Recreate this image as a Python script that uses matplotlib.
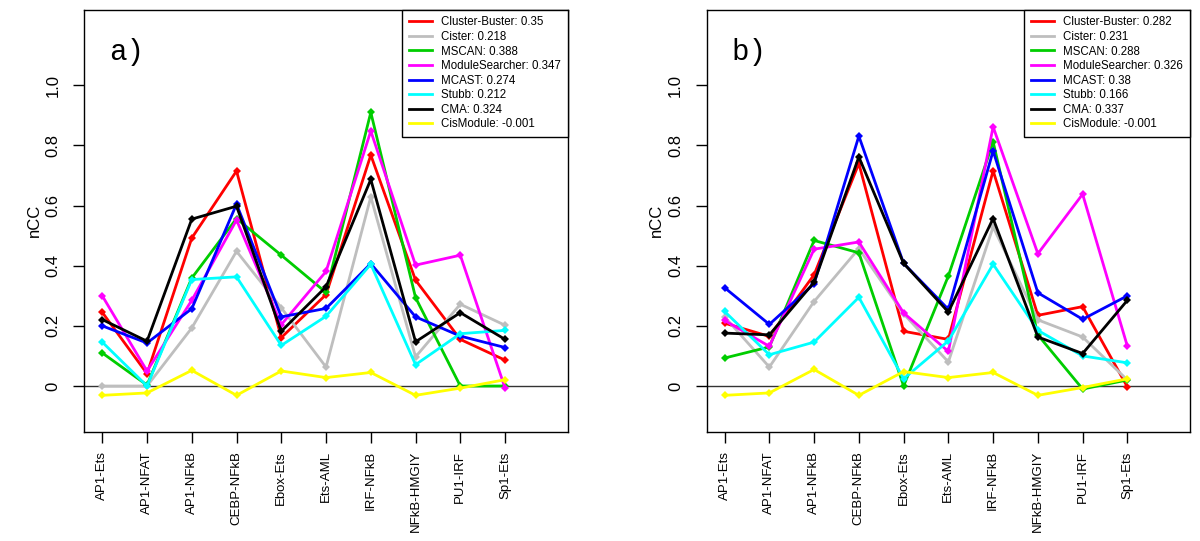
import numpy as np
import matplotlib.pyplot as plt
from matplotlib.lines import Line2D

plt.rcParams['font.family'] = ['Liberation Sans', 'DejaVu Sans']

# categories on the x axis
sites = ["AP1-Ets", "AP1-NFAT", "AP1-NFkB", "CEBP-NFkB", "Ebox-Ets",
         "Ets-AML", "IRF-NFkB", "NFkB-HMGIY", "PU1-IRF", "Sp1-Ets"]

methods = ["Cluster-Buster", "Cister", "MSCAN", "ModuleSearcher",
           "MCAST", "Stubb", "CMA", "CisModule"]
colors = ["#FF0000", "#BEBEBE", "#00CD00", "#FF00FF",
          "#0000FF", "#00FFFF", "#000000", "#FFFF00"]

# panel a) nCC per site
a_clusterbuster = [0.245, 0.041, 0.492, 0.715, 0.161, 0.304, 0.768, 0.352, 0.155, 0.086]
a_cister        = [0.0, 0.0, 0.193, 0.448, 0.26, 0.063, 0.629, 0.097, 0.272, 0.202]
a_mscan         = [0.11, 0.003, 0.359, 0.557, 0.435, 0.311, 0.91, 0.294, 0.0, 0.0]
a_modulesearch  = [0.30, 0.05, 0.285, 0.552, 0.204, 0.381, 0.848, 0.402, 0.435, -0.007]
a_mcast         = [0.20, 0.143, 0.257, 0.605, 0.23, 0.258, 0.407, 0.23, 0.166, 0.128]
a_stubb         = [0.146, 0.0, 0.354, 0.363, 0.135, 0.232, 0.405, 0.071, 0.174, 0.185]
a_cma           = [0.221, 0.149, 0.555, 0.598, 0.182, 0.33, 0.687, 0.147, 0.244, 0.155]
a_cismodule     = [-0.031, -0.023, 0.052, -0.031, 0.05, 0.028, 0.045, -0.031, -0.007, 0.021]
a_scores = ["0.35", "0.218", "0.388", "0.347", "0.274", "0.212", "0.324", "-0.001"]

# panel b) nCC per site
b_clusterbuster = [0.209, 0.165, 0.37, 0.74, 0.182, 0.155, 0.716, 0.235, 0.264, -0.003]
b_cister        = [0.23, 0.063, 0.281, 0.457, 0.24, 0.08, 0.529, 0.22, 0.163, 0.02]
b_mscan         = [0.093, 0.13, 0.484, 0.443, 0.0, 0.366, 0.812, 0.17, -0.01, 0.02]
b_modulesearch  = [0.218, 0.132, 0.455, 0.479, 0.243, 0.115, 0.862, 0.44, 0.638, 0.132]
b_mcast         = [0.327, 0.205, 0.34, 0.831, 0.408, 0.255, 0.782, 0.31, 0.222, 0.30]
b_stubb         = [0.248, 0.104, 0.146, 0.295, 0.024, 0.15, 0.405, 0.185, 0.10, 0.077]
b_cma           = [0.176, 0.17, 0.345, 0.762, 0.408, 0.246, 0.557, 0.163, 0.108, 0.285]
b_cismodule     = [-0.031, -0.023, 0.055, -0.031, 0.048, 0.028, 0.045, -0.031, -0.005, 0.024]
b_scores = ["0.282", "0.231", "0.288", "0.326", "0.38", "0.166", "0.337", "-0.001"]

panel_a = [a_clusterbuster, a_cister, a_mscan, a_modulesearch,
           a_mcast, a_stubb, a_cma, a_cismodule]
panel_b = [b_clusterbuster, b_cister, b_mscan, b_modulesearch,
           b_mcast, b_stubb, b_cma, b_cismodule]

fig = plt.figure(figsize=(12, 5.41), dpi=100)
ax1 = fig.add_axes([0.0703, 0.202, 0.4028, 0.7804])
ax2 = fig.add_axes([0.5889, 0.202, 0.4028, 0.7804])

x = np.arange(1, len(sites) + 1)


def draw_panel(ax, series, scores, tag):
    for vals, col in zip(series, colors):
        ax.plot(x, vals, color=col, lw=2, marker='D', ms=4.5,
                markeredgewidth=0, solid_joinstyle='miter')
    ax.axhline(0, color='#333333', lw=1, zorder=0)
    ax.set_xlim(0.6, 11.4)
    ax.set_ylim(-0.152, 1.252)
    ax.set_xticks(x)
    ax.set_xticklabels(sites, rotation=90, fontsize=9.5)
    ax.set_yticks([0, 0.2, 0.4, 0.6, 0.8, 1.0])
    ax.set_yticklabels(["0", "0.2", "0.4", "0.6", "0.8", "1.0"],
                       rotation=90, va='center', fontsize=12)
    ax.tick_params(axis='y', direction='out', length=8, width=1, pad=9)
    ax.tick_params(axis='x', direction='out', length=8, width=1, pad=6)
    ax.set_ylabel("nCC", fontsize=12, labelpad=3)
    for s in ax.spines.values():
        s.set_linewidth(1)
    ax.text(1.55, 1.11, tag, fontsize=21, family='Liberation Mono',
            ha='center', va='center')
    handles = [Line2D([], [], color=c, lw=2) for c in colors]
    labels = [f"{m}: {s}" for m, s in zip(methods, scores)]
    leg = ax.legend(handles, labels, loc='upper right', bbox_to_anchor=(1, 1),
                    borderaxespad=0, fontsize=8.3, fancybox=False,
                    edgecolor='black', framealpha=1, handlelength=2.0,
                    handletextpad=0.8, labelspacing=0.22, borderpad=0.6)
    leg.get_frame().set_linewidth(1)


draw_panel(ax1, panel_a, a_scores, "a)")
draw_panel(ax2, panel_b, b_scores, "b)")

fig.savefig("out.png", dpi=100)
